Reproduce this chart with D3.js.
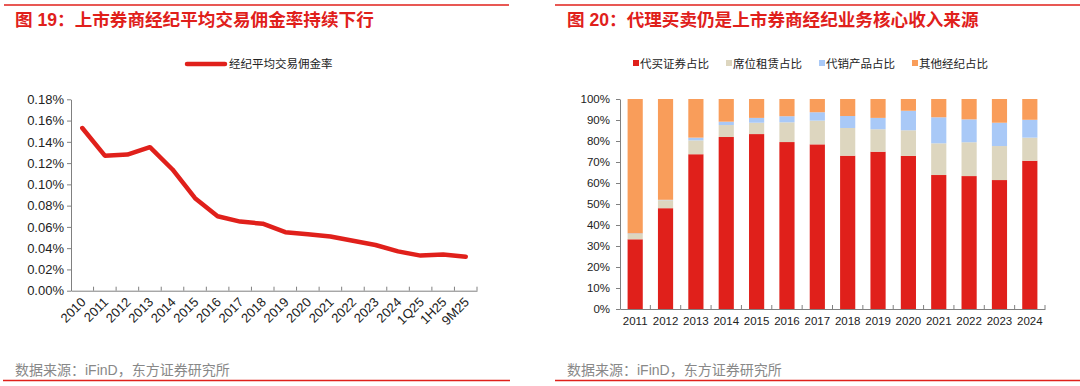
<!DOCTYPE html>
<html>
<head>
<meta charset="utf-8">
<script src="https://cdn.jsdelivr.net/npm/d3@7"></script>
<style>
  body { margin: 0; background: #fff; }
  svg { display: block; font-family: "Liberation Sans", Arial, "Noto Sans CJK SC", sans-serif; }
  .axis path, .axis line { stroke: #808080; }
  .axis text { fill: #222; }
</style>
</head>
<body>
<svg id="chart" width="1080" height="386"></svg>
<script>
// left chart: average brokerage commission rate
const periods = ["2010","2011","2012","2013","2014","2015","2016","2017","2018","2019","2020","2021","2022","2023","2024","1Q25","1H25","9M25"];
const commissionRate = [0.153,0.127,0.128,0.135,0.114,0.087,0.070,0.065,0.063,0.055,0.053,0.051,0.047,0.043,0.037,0.033,0.034,0.032];
const rateTicks = [0,0.02,0.04,0.06,0.08,0.10,0.12,0.14,0.16,0.18];

// right chart: brokerage revenue mix (%)
const years = ["2011","2012","2013","2014","2015","2016","2017","2018","2019","2020","2021","2022","2023","2024"];
const tradingShare = [33.2,48.0,73.7,81.9,83.3,79.5,78.4,73.0,74.9,72.9,63.8,63.3,61.4,70.6];
const seatShare = [2.5,3.8,6.6,5.7,5.4,9.4,11.3,13.2,10.7,12.2,15.1,16.1,16.2,11.0];
const productShare = [0.3,0.2,1.3,1.6,2.3,2.9,4.0,5.7,5.4,9.3,12.4,10.9,11.1,8.5];
const otherShare = [64.0,48.0,18.4,10.8,9.0,8.2,6.3,8.1,9.0,5.6,8.7,9.7,11.3,9.9];
const seriesNames = ["代买证券占比","席位租赁占比","代销产品占比","其他经纪占比"];
const seriesColors = ["#e0201b","#ddd6bf","#a9c9f7","#f99d5a"];

const red = "#e0201b";
const svg = d3.select("#chart");

// frame lines, titles, sources
svg.append("line").attr("x1",4).attr("x2",509).attr("y1",5).attr("y2",5).attr("stroke",red).attr("stroke-width",1.5);
svg.append("line").attr("x1",555).attr("x2",1080).attr("y1",5).attr("y2",5).attr("stroke",red).attr("stroke-width",1.5);
svg.append("line").attr("x1",3).attr("x2",510).attr("y1",380.5).attr("y2",380.5).attr("stroke",red).attr("stroke-width",1.5);
svg.append("line").attr("x1",555).attr("x2",1080).attr("y1",380.5).attr("y2",380.5).attr("stroke",red).attr("stroke-width",1.5);

svg.append("text").attr("x",15).attr("y",26).attr("fill",red).attr("font-size",17.6).attr("font-weight","bold")
  .text("图 19：上市券商经纪平均交易佣金率持续下行");
svg.append("text").attr("x",567).attr("y",26).attr("fill",red).attr("font-size",17.6).attr("font-weight","bold")
  .text("图 20：代理买卖仍是上市券商经纪业务核心收入来源");
svg.append("text").attr("x",15).attr("y",375).attr("fill","#888").attr("font-size",14)
  .text("数据来源：iFinD，东方证券研究所");
svg.append("text").attr("x",567).attr("y",375).attr("fill","#888").attr("font-size",14)
  .text("数据来源：iFinD，东方证券研究所");

// ---- left line chart
const L = { left: 71, right: 477, top: 99.3, bottom: 290.7 };
const xL = d3.scaleBand().domain(periods).range([L.left, L.right]);
const yL = d3.scaleLinear().domain([0, 0.18]).range([L.bottom, L.top]);

const gxL = svg.append("g").attr("class","axis").attr("transform",`translate(0,${L.bottom})`)
  .call(d3.axisBottom(xL).tickSize(0).tickSizeOuter(0));
gxL.selectAll(".tick line").remove();
gxL.selectAll(".tick text").attr("font-size",13).attr("text-anchor","end")
  .attr("transform","translate(1,9) rotate(-45)").attr("dy","0.35em").attr("x",0).attr("y",0);
gxL.selectAll(".bnd").data(periods).enter().append("line").attr("class","bnd")
  .attr("x1",(d,i) => L.left + (i+1)*xL.step()).attr("x2",(d,i) => L.left + (i+1)*xL.step())
  .attr("y1",0).attr("y2",-4).attr("stroke","#808080");

svg.append("g").attr("class","axis").attr("transform",`translate(${L.left},0)`)
  .call(d3.axisLeft(yL).tickValues(rateTicks).tickSize(4).tickSizeOuter(0).tickFormat(d => d.toFixed(2) + "%"))
  .selectAll("text").attr("font-size",13);

const line = d3.line().x((d,i) => xL(periods[i]) + xL.bandwidth()/2).y(d => yL(d));
svg.append("path").datum(commissionRate).attr("d",line).attr("fill","none")
  .attr("stroke",red).attr("stroke-width",4.5).attr("stroke-linejoin","round").attr("stroke-linecap","round");

// left legend
svg.append("line").attr("x1",187).attr("x2",225).attr("y1",64).attr("y2",64).attr("stroke",red).attr("stroke-width",4.5).attr("stroke-linecap","round");
svg.append("text").attr("x",229).attr("y",68).attr("font-size",11.5).attr("fill","#222").text("经纪平均交易佣金率");

// ---- right stacked bar chart
const R = { left: 620, right: 1045, top: 99, bottom: 309 };
const xR = d3.scaleBand().domain(years).range([R.left, R.right]).paddingInner(0.5).paddingOuter(0.25);
const yR = d3.scaleLinear().domain([0, 100]).range([R.bottom, R.top]);

const rows = years.map((y,i) => ({ year: y, s0: tradingShare[i], s1: seatShare[i], s2: productShare[i], s3: otherShare[i] }));
const stacked = d3.stack().keys(["s0","s1","s2","s3"])(rows);

svg.append("g").selectAll("g").data(stacked).enter().append("g").attr("fill",(d,i) => seriesColors[i])
  .selectAll("rect").data(d => d).enter().append("rect")
  .attr("x",d => xR(d.data.year)).attr("width",xR.bandwidth())
  .attr("y",d => yR(Math.min(100,d[1]))).attr("height",d => yR(d[0]) - yR(Math.min(100,d[1])));

const gxR = svg.append("g").attr("class","axis").attr("transform",`translate(0,${R.bottom})`)
  .call(d3.axisBottom(xR).tickSize(0).tickSizeOuter(0).tickPadding(8));
gxR.selectAll(".tick text").attr("font-size",11.5);
gxR.selectAll(".bnd").data(years).enter().append("line").attr("class","bnd")
  .attr("x1",(d,i) => R.left + (i+1)*xR.step()).attr("x2",(d,i) => R.left + (i+1)*xR.step())
  .attr("y1",0).attr("y2",-4).attr("stroke","#808080");

svg.append("g").attr("class","axis").attr("transform",`translate(${R.left},0)`)
  .call(d3.axisLeft(yR).ticks(10).tickSize(4).tickPadding(6).tickSizeOuter(0).tickFormat(d => d + "%"))
  .selectAll("text").attr("font-size",11.5);

// right legend
const legR = svg.append("g").selectAll("g").data(seriesNames).enter().append("g")
  .attr("transform",(d,i) => `translate(${633 + i*93},0)`);
legR.append("rect").attr("x",0).attr("y",60).attr("width",6).attr("height",6).attr("fill",(d,i) => seriesColors[i]);
legR.append("text").attr("x",7).attr("y",68).attr("font-size",11.5).attr("fill","#222").text(d => d);
</script>
</body>
</html>
